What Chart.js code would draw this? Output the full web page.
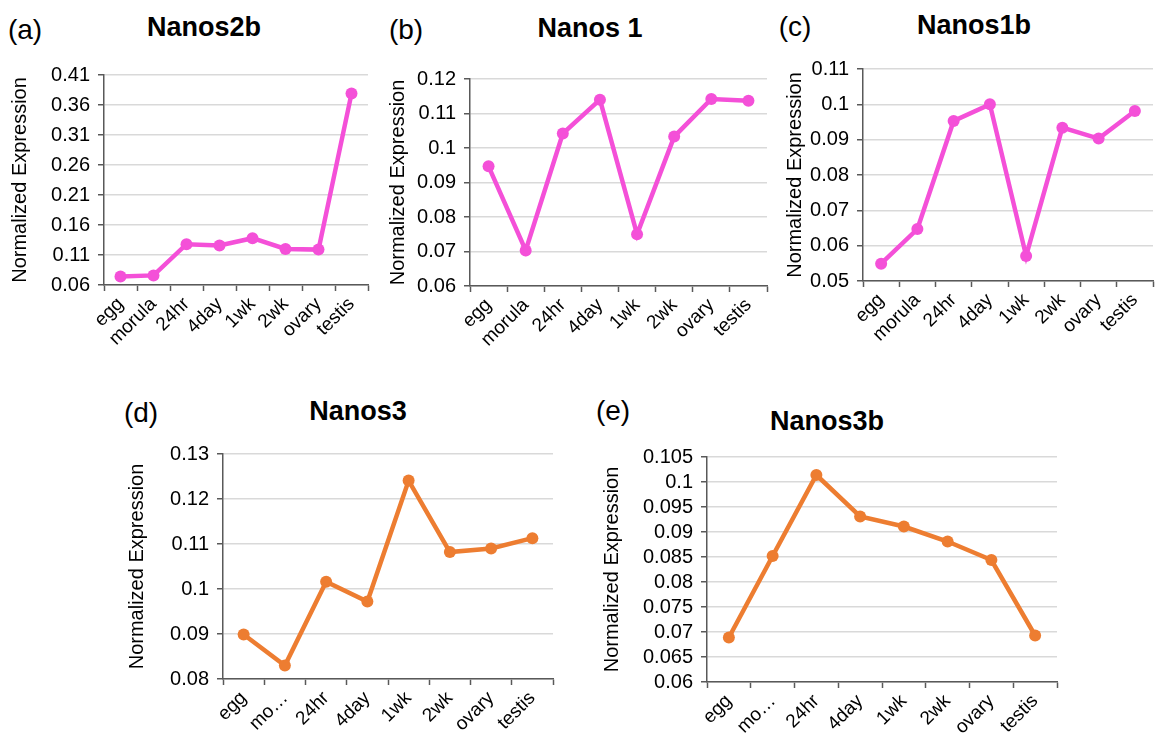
<!DOCTYPE html>
<html lang="en">
<head>
  <meta charset="UTF-8">
  <title>Nanos expression</title>
  <script src="https://cdn.jsdelivr.net/npm/chart.js"></script>
  <style>
    body {
      margin: 0;
      width: 1156px;
      height: 739px;
      overflow: hidden;
      background: #fff;
      font-family: 'Liberation Sans', Arial, sans-serif;
      position: relative;
    }
    canvas { position: absolute; }
    .panel, .title {
      position: absolute;
      transform: translate(-50%, -50%);
      line-height: 1;
      white-space: nowrap;
      color: #000;
    }
    .panel { font-size: 28px; }
    .title { font-size: 27px; font-weight: bold; }
  </style>
</head>
<body>
  <div class="panel" style="left:25px; top:30px">(a)</div>
  <div class="title" style="left:204px; top:27px">Nanos2b</div>
  <div class="panel" style="left:406px; top:30px">(b)</div>
  <div class="title" style="left:590px; top:28px">Nanos 1</div>
  <div class="panel" style="left:795px; top:27px">(c)</div>
  <div class="title" style="left:974px; top:25px">Nanos1b</div>
  <div class="panel" style="left:141px; top:413px">(d)</div>
  <div class="title" style="left:358px; top:411px">Nanos3</div>
  <div class="panel" style="left:613px; top:411px">(e)</div>
  <div class="title" style="left:827px; top:421px">Nanos3b</div>

  <canvas id="chartA"></canvas>
  <canvas id="chartB"></canvas>
  <canvas id="chartC"></canvas>
  <canvas id="chartD"></canvas>
  <canvas id="chartE"></canvas>

  <script>
    const categories = ["egg", "morula", "24hr", "4day", "1wk", "2wk", "ovary", "testis"];
    const categoriesShort = ["egg", "mo…", "24hr", "4day", "1wk", "2wk", "ovary", "testis"];

    const nanos2b = [0.074, 0.076, 0.128, 0.126, 0.138, 0.120, 0.119, 0.379];
    const nanos1  = [0.0947, 0.0703, 0.1042, 0.1140, 0.0750, 0.1033, 0.1142, 0.1137];
    const nanos1b = [0.0549, 0.0647, 0.0953, 0.1000, 0.0571, 0.0934, 0.0903, 0.0981];
    const nanos3  = [0.0899, 0.0830, 0.1016, 0.0972, 0.1241, 0.1082, 0.1090, 0.1113];
    const nanos3b = [0.0689, 0.0852, 0.1014, 0.0931, 0.0911, 0.0881, 0.0844, 0.0693];

    const ticksA = [0.06, 0.11, 0.16, 0.21, 0.26, 0.31, 0.36, 0.41];
    const ticksB = [0.06, 0.07, 0.08, 0.09, 0.1, 0.11, 0.12];
    const ticksC = [0.05, 0.06, 0.07, 0.08, 0.09, 0.1, 0.11];
    const ticksD = [0.08, 0.09, 0.1, 0.11, 0.12, 0.13];
    const ticksE = [0.06, 0.065, 0.07, 0.075, 0.08, 0.085, 0.09, 0.095, 0.1, 0.105];

    const PINK = "#f450d8";
    const ORANGE = "#ed7d31";
    const AXIS = "#595959";
    const FONT = "'Liberation Sans', Arial";
    const PAD_TOP = 14, PAD_RIGHT = 10, X_H = 60;

    // box = plot area in page pixels, yw = width given to the y axis (labels + title)
    function drawPanel(id, labels, values, yTicks, color, box, yw) {
      const cv = document.getElementById(id);
      const w = box.r - box.l + yw + PAD_RIGHT;
      const h = box.b - box.t + PAD_TOP + X_H;
      cv.width = w;
      cv.height = h;
      cv.style.left = (box.l - yw) + "px";
      cv.style.top = (box.t - PAD_TOP) + "px";

      new Chart(cv.getContext("2d"), {
        type: "line",
        data: {
          labels,
          datasets: [{
            data: values,
            borderColor: color,
            backgroundColor: color,
            borderWidth: 4.5,
            pointRadius: 6,
            pointBorderWidth: 0,
            pointBackgroundColor: color,
            tension: 0
          }]
        },
        options: {
          responsive: false,
          animation: false,
          layout: { padding: { top: PAD_TOP, right: PAD_RIGHT, left: 0, bottom: 0 } },
          plugins: { legend: { display: false }, tooltip: { enabled: false } },
          scales: {
            x: {
              offset: true,
              grid: { offset: true, drawOnChartArea: false, drawTicks: true, tickLength: 6, tickColor: AXIS, tickWidth: 1.5 },
              border: { color: AXIS, width: 1.5 },
              ticks: {
                autoSkip: false, minRotation: 45, maxRotation: 45, padding: 2,
                color: "#000", font: { family: FONT, size: 19 }
              },
              afterFit: s => { s.height = X_H; }
            },
            y: {
              min: yTicks[0],
              max: yTicks[yTicks.length - 1],
              afterBuildTicks: s => { s.ticks = yTicks.map(v => ({ value: v })); },
              grid: { color: "#d9d9d9", lineWidth: 1.5, tickLength: 6, tickColor: AXIS, tickWidth: 1.5 },
              border: { color: AXIS, width: 1.5 },
              ticks: {
                autoSkip: false, padding: 8, color: "#000",
                font: { family: FONT, size: 20 },
                callback: v => String(+v.toFixed(3))
              },
              title: {
                display: true, text: "Normalized Expression", color: "#000", padding: 0,
                font: { family: FONT, size: 20 }
              },
              afterFit: s => { s.width = yw; }
            }
          }
        }
      });
    }

    drawPanel("chartA", categories, nanos2b, ticksA, PINK, { l: 104, t: 69, r: 368, b: 285 }, 96);
    drawPanel("chartB", categories, nanos1, ticksB, PINK, { l: 470, t: 73, r: 767, b: 286 }, 84);
    drawPanel("chartC", categories, nanos1b, ticksC, PINK, { l: 863, t: 63, r: 1153, b: 281 }, 80);
    drawPanel("chartD", categoriesShort, nanos3, ticksD, ORANGE, { l: 223, t: 448, r: 553, b: 679 }, 98);
    drawPanel("chartE", categoriesShort, nanos3b, ticksE, ORANGE, { l: 707, t: 451, r: 1057, b: 682 }, 107);
  </script>
</body>
</html>
